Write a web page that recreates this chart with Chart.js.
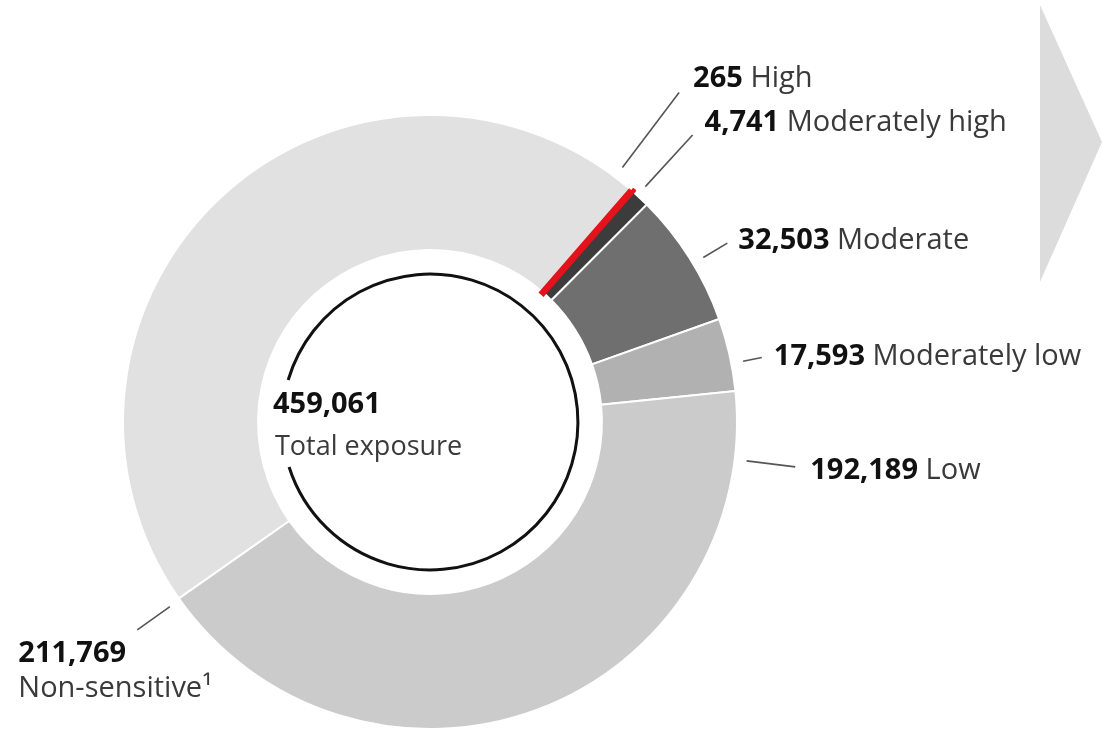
<!DOCTYPE html>
<html>
<head>
<meta charset="utf-8">
<script src="https://cdn.jsdelivr.net/npm/chart.js@4/dist/chart.umd.min.js"></script>
<style>
  html, body { margin: 0; padding: 0; background: #fff; }
  #wrap { width: 1102px; height: 732px; position: relative; }
</style>
</head>
<body>
<div id="wrap"><canvas id="myChart" width="1102" height="732"></canvas></div>
<script>
// Exposure by sensitivity, in draw order (clockwise, starting at Moderately high)
var categories = ['Moderately high', 'Moderate', 'Moderately low', 'Low', 'Non-sensitive', 'High'];
var exposure = [4741, 32503, 17593, 192189, 211769, 265];
var footnotes = ['', '', '', '', '\u00B9', ''];
var totalExposure = 459061;
var totalLabel = 'Total exposure';

var sliceColors = ['#3c3c3c', '#6f6f6f', '#b1b1b1', '#cbcbcb', '#e1e1e1', '#e3121b'];
var sliceBorders = ['#ffffff', '#ffffff', '#ffffff', '#ffffff', '#ffffff', '#e3121b'];
var sliceBorderWidth = [2, 2, 2, 2, 2, 6];

// Leader lines: where they leave the ring, how long, and where the text sits
var leaderAnchor = ['mid', 'mid', 'mid', 'start', 'start', 'mid'];
var leaderShift = [-0.6, 1.3, 1.7, 12.8, -0.3, -4];
var leaderLength = [82, 40, 31, 61, 52, 106];
var labelDx = [12, 11, 12, 15, -119, 14];
var labelDy = [-4, 6, 7, 12, 32, -6];
var labelLines = [1, 1, 1, 1, 2, 1];

var deg = Math.PI / 180;
var fontFamily = '"Open Sans", "Noto Sans", sans-serif';

var labelPlugin = {
    id: 'exposureLabels',
    beforeDraw: function(chart){
        // grey chevron top right
        var ctx = chart.ctx, w = chart.width;
        ctx.save();
        ctx.fillStyle = '#dcdcdc';
        ctx.beginPath();
        ctx.moveTo(w - 62, 5);
        ctx.lineTo(w, 142);
        ctx.lineTo(w - 62, 282);
        ctx.closePath();
        ctx.fill();
        ctx.restore();
    },
    afterDraw: function(chart){
        var ctx = chart.ctx;
        var arcs = chart.getDatasetMeta(0).data;
        var cx = arcs[0].x, cy = arcs[0].y;
        var outer = arcs[0].outerRadius, inner = arcs[0].innerRadius;
        ctx.save();
        ctx.textAlign = 'left';
        ctx.textBaseline = 'alphabetic';

        arcs.forEach(function(arc, i){
            var a = leaderAnchor[i] === 'mid' ? (arc.startAngle + arc.endAngle) / 2 : arc.startAngle;
            a += leaderShift[i] * deg;
            var r0 = outer + 12, r1 = outer + leaderLength[i];
            var x1 = cx + Math.cos(a) * r1, y1 = cy + Math.sin(a) * r1;
            ctx.strokeStyle = '#555';
            ctx.lineWidth = 1.6;
            ctx.beginPath();
            ctx.moveTo(cx + Math.cos(a) * r0, cy + Math.sin(a) * r0);
            ctx.lineTo(x1, y1);
            ctx.stroke();

            var tx = x1 + labelDx[i], ty = y1 + labelDy[i];
            var num = exposure[i].toLocaleString('en-US');
            ctx.font = 'bold 29px ' + fontFamily;
            ctx.fillStyle = '#111';
            ctx.fillText(num, tx, ty);
            var numWidth = ctx.measureText(num + ' ').width;
            ctx.font = '29px ' + fontFamily;
            ctx.fillStyle = '#3a3a3a';
            if(labelLines[i] === 2){
                ctx.fillText(categories[i] + footnotes[i], tx, ty + 35);
            }else{
                ctx.fillText(categories[i] + footnotes[i], tx + numWidth, ty);
            }
        });

        // black ring in the hole, open on the left for the text
        ctx.strokeStyle = '#111';
        ctx.lineWidth = 3;
        ctx.beginPath();
        ctx.arc(cx, cy, inner - 24, -163.5 * deg, 162.3 * deg);
        ctx.stroke();

        ctx.font = 'bold 29px ' + fontFamily;
        ctx.fillStyle = '#111';
        ctx.fillText(totalExposure.toLocaleString('en-US'), cx - 157, cy - 9);
        ctx.font = '27px ' + fontFamily;
        ctx.fillStyle = '#3a3a3a';
        ctx.fillText(totalLabel, cx - 155, cy + 33);
        ctx.restore();
    }
};

function initializeChart(){
    new Chart(document.getElementById('myChart'), {
        type: 'doughnut',
        data: {
            labels: categories,
            datasets: [{
                data: exposure,
                backgroundColor: sliceColors,
                borderColor: sliceBorders,
                borderWidth: sliceBorderWidth,
                borderJoinStyle: 'miter'
            }]
        },
        options: {
            responsive: false,
            animation: false,
            events: [],
            rotation: 41.2,
            radius: 307,
            cutout: '56%',
            layout: { padding: { left: 0, right: 242, top: 115, bottom: 3 } },
            plugins: {
                legend: { display: false },
                tooltip: { enabled: false }
            }
        },
        plugins: [labelPlugin]
    });
}

Promise.all([
    document.fonts.load('bold 29px "Open Sans"'),
    document.fonts.load('29px "Open Sans"')
]).then(initializeChart, initializeChart);
</script>
</body>
</html>
